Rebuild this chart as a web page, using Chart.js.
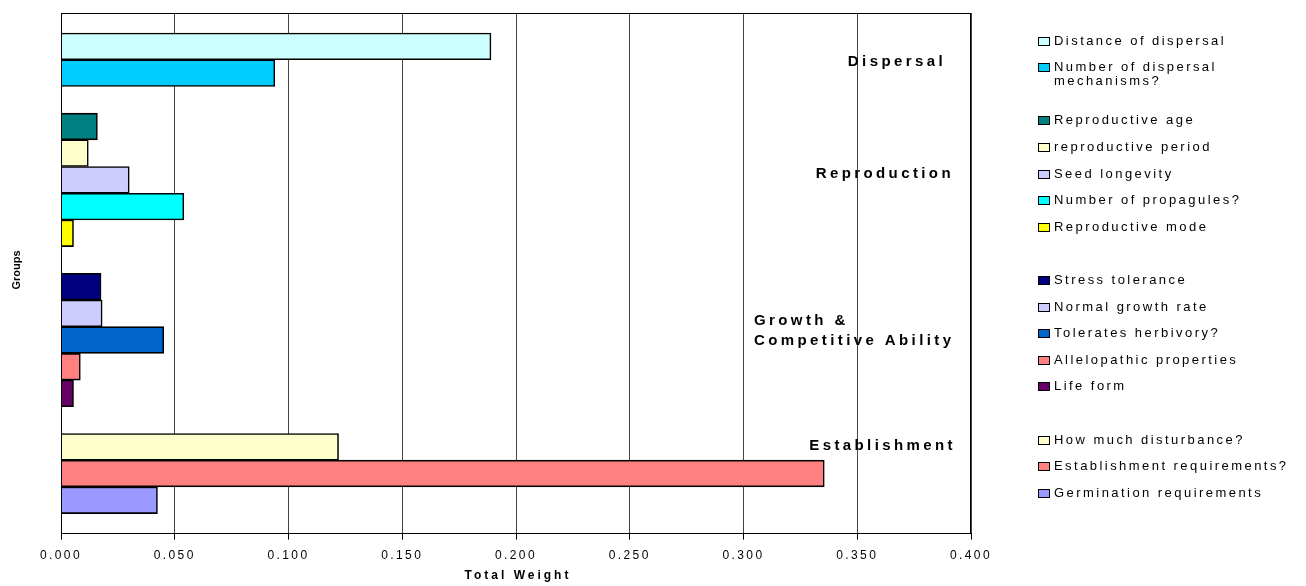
<!DOCTYPE html>
<html>
<head>
<meta charset="utf-8">
<title>Total Weight by Group</title>
<script src="https://cdn.jsdelivr.net/npm/chart.js@4/dist/chart.umd.min.js"></script>
<style>
  html, body { margin: 0; padding: 0; background: #fff; }
  #wrap { width: 1306px; height: 586px; position: relative; }
</style>
</head>
<body>
<div id="wrap"><canvas id="chart"></canvas></div>
<script>
// group names, top to bottom
const groupNames = ['Dispersal', 'Reproduction', 'Growth &\nCompetitive Ability', 'Establishment'];

// factors within each group
const dispersalFactors = ['Distance of dispersal', 'Number of dispersal\nmechanisms?'];
const dispersalWeights = [0.189, 0.094];
const dispersalColors = ['#CCFFFF', '#00CCFF'];

const reproductionFactors = ['Reproductive age', 'reproductive period', 'Seed longevity', 'Number of propagules?', 'Reproductive mode'];
const reproductionWeights = [0.016, 0.012, 0.030, 0.054, 0.0055];
const reproductionColors = ['#008080', '#FFFFCC', '#CCCCFF', '#00FFFF', '#FFFF00'];

const growthFactors = ['Stress tolerance', 'Normal growth rate', 'Tolerates herbivory?', 'Allelopathic properties', 'Life form'];
const growthWeights = [0.0176, 0.0181, 0.0452, 0.0085, 0.0055];
const growthColors = ['#000080', '#CCCCFF', '#0066CC', '#FF8080', '#660066'];

const establishmentFactors = ['How much disturbance?', 'Establishment requirements?', 'Germination requirements'];
const establishmentWeights = [0.122, 0.3355, 0.0424];
const establishmentColors = ['#FFFFCC', '#FF8080', '#9999FF'];

const xTicks = ['0.000', '0.050', '0.100', '0.150', '0.200', '0.250', '0.300', '0.350', '0.400'];

const allFactors = [dispersalFactors, reproductionFactors, growthFactors, establishmentFactors];
const allWeights = [dispersalWeights, reproductionWeights, growthWeights, establishmentWeights];
const allColors = [dispersalColors, reproductionColors, growthColors, establishmentColors];

// flatten into rows, one empty row between groups
const rows = [];
const groupStart = [];
allFactors.forEach(function (factors, g) {
    if (g > 0) rows.push(null);
    groupStart.push(rows.length);
    factors.forEach(function (name, i) {
        rows.push({ name: name, value: allWeights[g][i], color: allColors[g][i] });
    });
});

const points = [];
const barColors = [];
rows.forEach(function (r, i) {
    if (!r) return;
    points.push({ x: r.value, y: i });
    barColors.push(r.color);
});

const FONT = "'Liberation Sans', Arial, sans-serif";

const decorations = {
    id: 'decorations',
    beforeDraw: function (chart) {
        chart.ctx.letterSpacing = '2.4px';
    },
    afterDraw: function (chart) {
        const ctx = chart.ctx;
        const area = chart.chartArea;
        const y = chart.scales.y;
        ctx.save();

        // plot frame
        ctx.letterSpacing = '0px';
        ctx.strokeStyle = '#000';
        ctx.lineWidth = 1;
        ctx.strokeRect(Math.round(area.left) + 0.5, Math.round(area.top) + 0.5,
            Math.round(area.right - area.left) - 1, Math.round(area.bottom - area.top) - 1);

        // group captions inside the plot
        ctx.fillStyle = '#000';
        ctx.font = 'bold 15px ' + FONT;
        ctx.letterSpacing = '3.4px';
        ctx.textBaseline = 'middle';
        const capRows = [0.58, 1.78, 1.28, -0.05];
        const capRight = [943, 951, 948, 953];
        groupNames.forEach(function (name, g) {
            const lines = name.split('\n');
            const yy = y.getPixelForValue(groupStart[g] + capRows[g]);
            if (lines.length > 1) {
                ctx.textAlign = 'left';
                lines.forEach(function (ln, k) {
                    ctx.fillText(ln, area.right - 217, yy + k * 20);
                });
            } else {
                ctx.textAlign = 'right';
                ctx.fillText(name, area.left + (capRight[g] - 61) + 3, yy);
            }
        });

        // legend
        ctx.font = '13px ' + FONT;
        ctx.letterSpacing = '2.45px';
        ctx.textAlign = 'left';
        rows.forEach(function (r, i) {
            if (!r) return;
            const cy = 41 + i * 26.6;
            ctx.fillStyle = r.color;
            ctx.fillRect(1038.5, Math.round(cy - 4.5) + 0.5, 11, 8);
            ctx.strokeStyle = '#000';
            ctx.lineWidth = 1;
            ctx.strokeRect(1038.5, Math.round(cy - 4.5) + 0.5, 11, 8);
            ctx.fillStyle = '#000';
            r.name.split('\n').forEach(function (ln, k) {
                ctx.fillText(ln, 1054, cy + k * 14);
            });
        });

        // axis titles
        ctx.font = 'bold 12px ' + FONT;
        ctx.letterSpacing = '3px';
        ctx.textAlign = 'center';
        ctx.fillText('Total Weight', (area.left + area.right) / 2 + 2, 576);

        ctx.letterSpacing = '0px';
        ctx.font = 'bold 11px ' + FONT;
        ctx.translate(17, 270);
        ctx.rotate(-Math.PI / 2);
        ctx.fillText('Groups', 0, 0);
        ctx.restore();
    }
};

const ctx = document.getElementById('chart').getContext('2d');
const chart = new Chart(ctx, {
    type: 'bar',
    data: {
        datasets: [{
            data: points,
            backgroundColor: barColors,
            borderColor: '#000',
            borderWidth: 1.6,
            borderSkipped: 'start',
            barPercentage: 1,
            categoryPercentage: 1
        }]
    },
    options: {
        indexAxis: 'y',
        responsive: true,
        maintainAspectRatio: false,
        animation: false,
        layout: { padding: { left: 61, right: 335, top: 13, bottom: 14 } },
        plugins: {
            legend: { display: false },
            tooltip: { enabled: false }
        },
        scales: {
            x: {
                type: 'linear',
                min: 0,
                max: 0.4,
                ticks: {
                    stepSize: 0.05,
                    color: '#000',
                    padding: 9,
                    font: { family: FONT, size: 12 },
                    callback: function (v, i) { return xTicks[i]; }
                },
                grid: { color: '#444', lineWidth: 1, tickLength: 6, tickColor: '#000' },
                border: { color: '#000', width: 1 }
            },
            y: {
                type: 'linear',
                reverse: true,
                offset: false,
                grid: { offset: false },
                min: -1.25,
                max: rows.length - 1 + 1.25,
                display: false
            }
        }
    },
    plugins: [decorations]
});
</script>
</body>
</html>
